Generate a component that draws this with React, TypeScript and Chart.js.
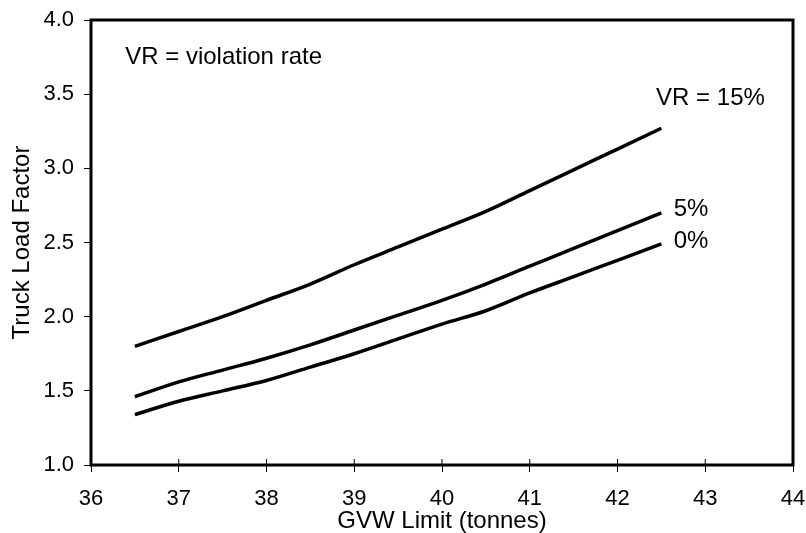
import React, { useEffect, useRef } from "react";
import { Chart, registerables } from "chart.js";

Chart.register(...registerables);

const gvwLimit = [36.5, 37, 37.5, 38, 38.5, 39, 39.5, 40, 40.5, 41, 41.5, 42, 42.5];
const vr15 = [1.8, 1.9, 2.0, 2.11, 2.22, 2.35, 2.47, 2.59, 2.71, 2.85, 2.99, 3.13, 3.27];
const vr5 = [1.46, 1.56, 1.64, 1.72, 1.81, 1.91, 2.01, 2.11, 2.22, 2.34, 2.46, 2.58, 2.7];
const vr0 = [1.34, 1.43, 1.5, 1.57, 1.66, 1.75, 1.85, 1.95, 2.04, 2.16, 2.27, 2.38, 2.49];

const noteTexts = ["VR = violation rate", "VR = 15%", "5%", "0%"];
const noteX = [36.39, 42.44, 42.64, 42.64];
const noteY = [3.75, 3.47, 2.72, 2.51];

const FONT = '"Liberation Sans", Arial, Helvetica, sans-serif';

const framePlugin = {
  id: "frame",
  afterDatasetsDraw(chart: any) {
    const { ctx, chartArea: a, scales } = chart;
    ctx.save();
    ctx.strokeStyle = "#000";
    ctx.lineWidth = 1;
    ctx.beginPath();
    scales.x.ticks.forEach((t: any) => {
      const x = scales.x.getPixelForValue(t.value);
      ctx.moveTo(x, a.bottom - 6);
      ctx.lineTo(x, a.bottom);
    });
    ctx.stroke();
    ctx.lineWidth = 3;
    ctx.strokeRect(a.left, a.top, a.right - a.left, a.bottom - a.top);
    ctx.fillStyle = "#000";
    ctx.font = "24px " + FONT;
    ctx.textAlign = "left";
    ctx.textBaseline = "middle";
    noteTexts.forEach((txt, i) => {
      ctx.fillText(txt, scales.x.getPixelForValue(noteX[i]), scales.y.getPixelForValue(noteY[i]));
    });
    ctx.restore();
  },
};

export default function App() {
  const ref = useRef<HTMLCanvasElement | null>(null);
  useEffect(() => {
    if (!ref.current) return;
    const mk = (vals: number[]) => gvwLimit.map((x, i) => ({ x, y: vals[i] }));
    const ds = (label: string, vals: number[]) => ({
      label,
      data: mk(vals),
      borderColor: "#000",
      borderWidth: 3.5,
      pointRadius: 0,
      tension: 0.4,
      cubicInterpolationMode: "monotone" as const,
      fill: false,
    });
    const chart = new Chart(ref.current, {
      type: "line",
      data: { datasets: [ds("VR = 15%", vr15), ds("5%", vr5), ds("0%", vr0)] },
      options: {
        animation: false,
        responsive: true,
        maintainAspectRatio: false,
        layout: { padding: { left: 0, right: 13, top: 20, bottom: 0 } },
        plugins: { legend: { display: false }, tooltip: { enabled: false } },
        scales: {
          x: {
            type: "linear",
            min: 36,
            max: 44,
            afterFit: (s: any) => { s.height = 68; s.paddingRight = 0; s.paddingLeft = 0; },
            ticks: { stepSize: 1, color: "#000", font: { family: FONT, size: 22 }, padding: 14, maxRotation: 0 },
            grid: { drawOnChartArea: false, drawTicks: true, tickLength: 7, color: "#000", tickWidth: 1 },
            border: { display: false },
            title: { display: true, text: "GVW Limit (tonnes)", color: "#000", font: { family: FONT, size: 24, lineHeight: 1 }, padding: { top: 0, bottom: 0 } },
          },
          y: {
            type: "linear",
            min: 1,
            max: 4,
            afterFit: (s: any) => { s.width = 91; s.paddingTop = 0; s.paddingBottom = 0; },
            ticks: { stepSize: 0.5, color: "#000", font: { family: FONT, size: 22 }, padding: 10, callback: (v: any) => Number(v).toFixed(1) },
            grid: { drawOnChartArea: false, drawTicks: true, tickLength: 7, color: "#000", tickWidth: 1 },
            border: { display: false },
            title: { display: true, text: "Truck Load Factor", color: "#000", font: { family: FONT, size: 24, lineHeight: 1 }, padding: { top: 10, bottom: 0 } },
          },
        },
      },
      plugins: [framePlugin],
    });
    return () => chart.destroy();
  }, []);
  return (
    <div style={{ position: "fixed", left: 0, top: 0, width: 806, height: 533, background: "#fff" }}>
      <canvas ref={ref} />
    </div>
  );
}
